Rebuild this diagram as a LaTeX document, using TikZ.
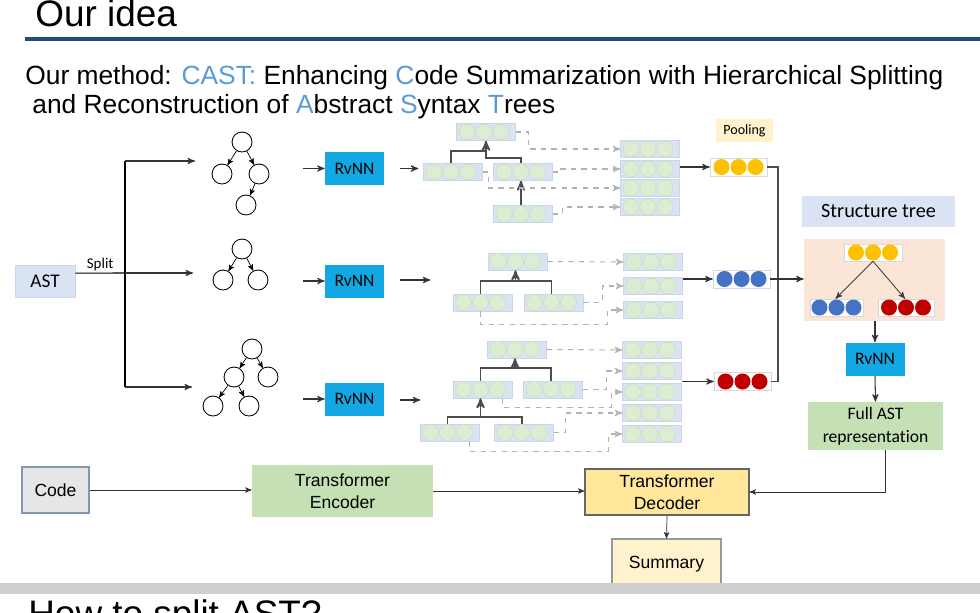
\documentclass[tikz,border=0pt]{standalone}
\usepackage{fontspec}
\setmainfont{Liberation Sans}
\newfontfamily\cali[Ligatures=NoCommon]{Carlito}
\usetikzlibrary{arrows}
\usetikzlibrary{calc}
\usepackage{xcolor}
\definecolor{titleblue}{HTML}{1F4E79}
\definecolor{castblue}{HTML}{5B9BD5}
\definecolor{rvblue}{HTML}{13A8E3}
\definecolor{vecfill}{HTML}{DAE3F3}
\definecolor{vecedge}{HTML}{C9D6EC}
\definecolor{vecgreen}{HTML}{DDEDD3}
\definecolor{vecring}{HTML}{C8DFBA}
\definecolor{dotyellow}{HTML}{FFC000}
\definecolor{dotblue}{HTML}{4472C4}
\definecolor{dotred}{HTML}{C00000}
\definecolor{peach}{HTML}{FBE5D6}
\definecolor{leafgreen}{HTML}{C5E0B4}
\definecolor{paleyellow}{HTML}{FFF2CC}
\definecolor{decyellow}{HTML}{FFE699}
\definecolor{codegray}{HTML}{E7E6E6}
\definecolor{codeedge}{HTML}{8497B0}

\begin{document}
\begin{tikzpicture}[x=0.02cm, y=-0.02cm, >=stealth',
  treenode/.style={circle, draw, line width=0.5pt, minimum size=0.4cm, inner sep=0},
  rvnn/.style={fill=rvblue, minimum width=1.18cm, minimum height=0.66cm, inner sep=0, font=\cali\fontsize{10}{12}\selectfont},
  vecbox/.style={fill=vecfill, draw=vecedge, line width=0.3pt, minimum width=1.18cm, minimum height=0.34cm, inner sep=0},
  poolbox/.style={fill=white, draw=black!15, line width=0.3pt, minimum width=1.14cm, minimum height=0.36cm, inner sep=0},
  treelink/.style={draw=black!70, line width=1pt},
  dashlink/.style={draw=black!30, dashed, ->, line width=0.6pt},
  flow/.style={->, line width=0.6pt, draw=black!80}]
\useasboundingbox (0,0) rectangle (980,612);
\clip (0,0) rectangle (980,612);

% heading
\node[anchor=base west, inner sep=0, font=\fontsize{21}{25}\selectfont] (idea) at (35,27) {Our idea};
\draw[titleblue, line width=2pt] (25,39) -- (980,39);
\node[anchor=base west, inner sep=0, font=\fontsize{15}{18}\selectfont] (method) at (25,84)
  {Our method: \textcolor{castblue}{CAST:} Enhancing \textcolor{castblue}{C}ode Summarization with Hierarchical Splitting};
\node[anchor=base west, inner sep=0, font=\fontsize{15}{18}\selectfont] (method2) at (32,113)
  {and Reconstruction of \textcolor{castblue}{A}bstract \textcolor{castblue}{S}yntax \textcolor{castblue}{T}rees};

% split of the AST
\node[fill=vecfill, draw=vecedge, minimum width=1.2cm, minimum height=0.64cm, inner sep=0,
  font=\cali\fontsize{11}{13}\selectfont] (ast) at (45,281) {AST};
\coordinate (split) at (125,273);
\coordinate (br1) at (125,161);
\coordinate (br3) at (125,387);
\draw[line width=0.6pt] ([yshift=4.5pt]ast.east) -- (split)
  node[midway, above, inner sep=1pt, font=\cali\fontsize{8.5}{10}\selectfont] {Split};
\draw[line width=0.6pt] (br1) -- (br3);
\draw[flow] (br1) -- ++(70,0);
\draw[flow] (split) -- ++(68,0);
\draw[flow] (br3) -- ++(67,0);

% sub-trees
\node[treenode] (t1r) at (242,142) {};
\node[treenode] (t1a) at (222,174) {};
\node[treenode] (t1b) at (259,174) {};
\node[treenode] (t1c) at (246,205) {};
\node[treenode] (t2r) at (242,249) {};
\node[treenode] (t2a) at (223,280) {};
\node[treenode] (t2b) at (258,280) {};
\node[treenode] (t3r) at (252,349) {};
\node[treenode] (t3a) at (234,377) {};
\node[treenode] (t3b) at (268,377) {};
\node[treenode] (t3c) at (213,406) {};
\node[treenode] (t3d) at (249,406) {};
\foreach \p/\q in {t1r/t1a, t1r/t1b, t1b/t1c, t2r/t2a, t2r/t2b, t3r/t3a, t3r/t3b, t3a/t3c, t3a/t3d}
  \draw[->, line width=0.4pt] (\p) -- (\q);

% RvNN encoders
\node[rvnn] (rv1) at (354.5,168.5) {RvNN};
\node[rvnn] (rv2) at (354.5,281) {RvNN};
\node[rvnn] (rv3) at (354.5,399) {RvNN};
\foreach \r in {rv1,rv2,rv3}
  \draw[flow] ($(\r.west)+(-22,0)$) -- (\r.west);
\draw[flow] ($(rv1.east)+(16,0)$) -- ++(18,0);
\draw[flow] ($(rv2.east)+(16,-1)$) -- ++(30,0);
\draw[flow] ($(rv3.east)+(16,1)$) -- ++(20,0);

% encoded sub-tree 1
\node[vecbox] (a1) at (486,132) {};
\node[vecbox] (a2) at (453,172) {};
\node[vecbox] (a3) at (523,172) {};
\node[vecbox] (a4) at (523,214) {};
\node[vecbox] (s1a) at (650,149) {};
\node[vecbox] (s1b) at (650,169) {};
\node[vecbox] (s1c) at (650,188) {};
\node[vecbox] (s1d) at (650,207) {};
% encoded sub-tree 2
\node[vecbox] (b1) at (517.5,261.5) {};
\node[vecbox] (b2) at (482.5,302.5) {};
\node[vecbox] (b3) at (553.5,302.5) {};
\node[vecbox] (s2a) at (653,262) {};
\node[vecbox] (s2b) at (653,286) {};
\node[vecbox] (s2c) at (653,310) {};
% encoded sub-tree 3
\node[vecbox] (c1) at (517,349.5) {};
\node[vecbox] (c2) at (482.5,389.5) {};
\node[vecbox] (c3) at (553,389.5) {};
\node[vecbox] (c4) at (449.5,432.5) {};
\node[vecbox] (c5) at (524,432.5) {};
\node[vecbox] (s3a) at (652,350) {};
\node[vecbox] (s3b) at (652,371) {};
\node[vecbox] (s3c) at (652,392) {};
\node[vecbox] (s3d) at (652,413) {};
\node[vecbox] (s3e) at (652,434) {};
\foreach \b in {a1,a2,a3,a4,s1a,s1b,s1c,s1d,b1,b2,b3,s2a,s2b,s2c,c1,c2,c3,c4,c5,s3a,s3b,s3c,s3d,s3e}
  \foreach \dx in {-19,-2,15}
    \filldraw[fill=vecgreen, draw=vecring, line width=0.3pt] ($(\b)+(\dx,0)$) circle (8);

% tree links between vectors
\draw[treelink] ($(a2.north)+(-2,0)$) |- (486,151);
\draw[treelink, ->] ($(a3.north)+(-2,0)$) |- (486,158) -- ($(a1.south)+(0,0)$);
\draw[treelink, ->] ($(a4.north)+(-2,0)$) -- ($(a3.south)+(-2,0)$);
\draw[treelink] ($(b2.north)+(-2,0)$) -- ++(0,-13) -| ($(b3.north)+(-2,0)$);
\draw[treelink, ->] ($(b1.south)+(-2,11)$) -- ($(b1.south)+(-2,0)$);
\draw[treelink] ($(c2.north)+(-2,0)$) -- ++(0,-13) -| ($(c3.north)+(-2,0)$);
\draw[treelink, ->] ($(c1.south)+(-2,11)$) -- ($(c1.south)+(-2,0)$);
\draw[treelink] ($(c4.north)+(-2,0)$) -- ++(0,-7) -| ($(c5.north)+(-2,0)$);
\draw[treelink, ->] ($(c2.south)+(-2,20)$) -- ($(c2.south)+(-2,0)$);

% gathering the nodes
\draw[dashlink] (a1.east) -- ++(13,0) |- (s1a.west);
\draw[dashlink] (a3.east) -- ++(8,0) |- (s1b.west);
\draw[dashlink] (a2.east) -- ++(6,0) |- (s1c.west);
\draw[dashlink] (a4.east) -- ++(10,0) |- (s1d.west);
\draw[dashlink] (b1.east) -- (s2a.west);
\draw[dashlink] (b3.east) -- ++(19,0) |- (s2b.west);
\draw[dashlink] ($(b2.south)+(-2,0)$) -- ++(0,13) -| ($(s2c.west)+(-16,0)$) -- (s2c.west);
\draw[dashlink] (c1.east) -- (s3a.west);
\draw[dashlink] (c3.east) -- ++(24,0) |- (s3b.west);
\draw[dashlink] ($(c2.south)+(20,0)$) -- ++(0,9) -| ($(s3c.west)+(-11,0)$) -- (s3c.west);
\draw[dashlink] (c5.east) -- ++(12,0) |- (s3d.west);
\draw[dashlink] ($(c4.south)+(20,0)$) -- ++(0,10) -| ($(s3e.west)+(-14,0)$) -- (s3e.west);

% pooling
\node[fill=paleyellow, minimum width=1.14cm, minimum height=0.46cm, inner sep=0,
  font=\cali\fontsize{8}{9}\selectfont] (pooling) at (744.5,130.5) {Pooling};
\node[poolbox] (pool1) at (738.5,167) {};
\node[poolbox] (pool2) at (741.5,279) {};
\node[poolbox] (pool3) at (742.5,381.5) {};
\draw[flow] (s1b.east |- pool1) -- (pool1.west);
\draw[flow] (s2b.east |- pool2) -- (pool2.west);
\draw[flow] (s3c.east |- pool3) -- (pool3.west);

% structure tree
\node[fill=vecfill, minimum width=3.06cm, minimum height=0.62cm, inner sep=0,
  font=\cali\fontsize{11.5}{13}\selectfont] (stl) at (878.5,211.5) {Structure tree};
\node[fill=peach, minimum width=2.82cm, minimum height=1.64cm, inner sep=0] (st) at (874.5,280) {};
\node[poolbox, minimum width=1.16cm, minimum height=0.34cm] (sy) at (873,252.5) {};
\node[poolbox, minimum width=1.06cm, minimum height=0.34cm] (sb) at (836.5,307.5) {};
\node[poolbox, minimum width=1.12cm, minimum height=0.34cm] (sr) at (906,307.5) {};
\foreach \b/\c in {pool1/dotyellow, pool2/dotblue, pool3/dotred, sy/dotyellow, sb/dotblue, sr/dotred}
  \foreach \dx in {-17,0,17}
    \fill[\c] ($(\b)+(\dx,0)$) circle (8);
\draw[->, line width=0.5pt, black!75] (sy.south) -- ($(sb.north)+(-1,0)$);
\draw[->, line width=0.5pt, black!75] (sy.south) -- ($(sr.north)+(-1,0)$);

\coordinate (mg) at (778,279);
\draw[line width=0.6pt, black!70] (pool1.east) -| (mg);
\draw[line width=0.6pt, black!70] (pool3.east) -| (mg);
\draw[flow] (pool2.east) -- (pool2.east -| st.west);

% whole AST
\node[rvnn] (rv4) at (875,359) {RvNN};
\node[fill=leafgreen, minimum width=2.7cm, minimum height=0.96cm, inner sep=0, align=center,
  font=\cali\fontsize{10}{13}\selectfont] (full) at (875.5,426) {Full AST\\representation};
\draw[flow] (rv4 |- st.south) -- (rv4.north);
\draw[flow] (rv4.south) -- (full.north);

% code summarization
\node[fill=codegray, draw=codeedge, line width=0.6pt, minimum width=1.34cm, minimum height=0.92cm,
  inner sep=0, font=\fontsize{10}{12}\selectfont] (code) at (55.5,490) {Code};
\node[fill=leafgreen, minimum width=3.62cm, minimum height=1.04cm, inner sep=0, align=center,
  font=\fontsize{10}{12.5}\selectfont] (enc) at (342.5,491) {Transformer\\Encoder};
\node[fill=decyellow, draw=black!60, line width=0.6pt, minimum width=3.28cm, minimum height=0.92cm,
  inner sep=0, align=center, font=\fontsize{10}{12.5}\selectfont] (dec) at (667,492) {Transformer\\Decoder};
\node[fill=paleyellow, draw=black!40, line width=0.6pt, minimum width=2.18cm, minimum height=1.02cm,
  inner sep=0, font=\fontsize{10}{12}\selectfont] (sum) at (666.5,564.5) {Summary};
\draw[flow, line width=0.4pt] (code.east) -- (code.east -| enc.west);
\draw[flow, line width=0.4pt] (enc.east) -- (enc.east -| dec.west);
\draw[flow, line width=0.4pt] ($(full.south)+(10,0)$) |- (dec.east);
\draw[flow, line width=0.4pt] (dec.south) -- (sum.north);

% next slide
\fill[black!19] (0,583) rectangle (980,594);
\node[anchor=base west, inner sep=0, font=\fontsize{21}{25}\selectfont] (next) at (28,626) {How to split AST?};
\end{tikzpicture}
\end{document}
